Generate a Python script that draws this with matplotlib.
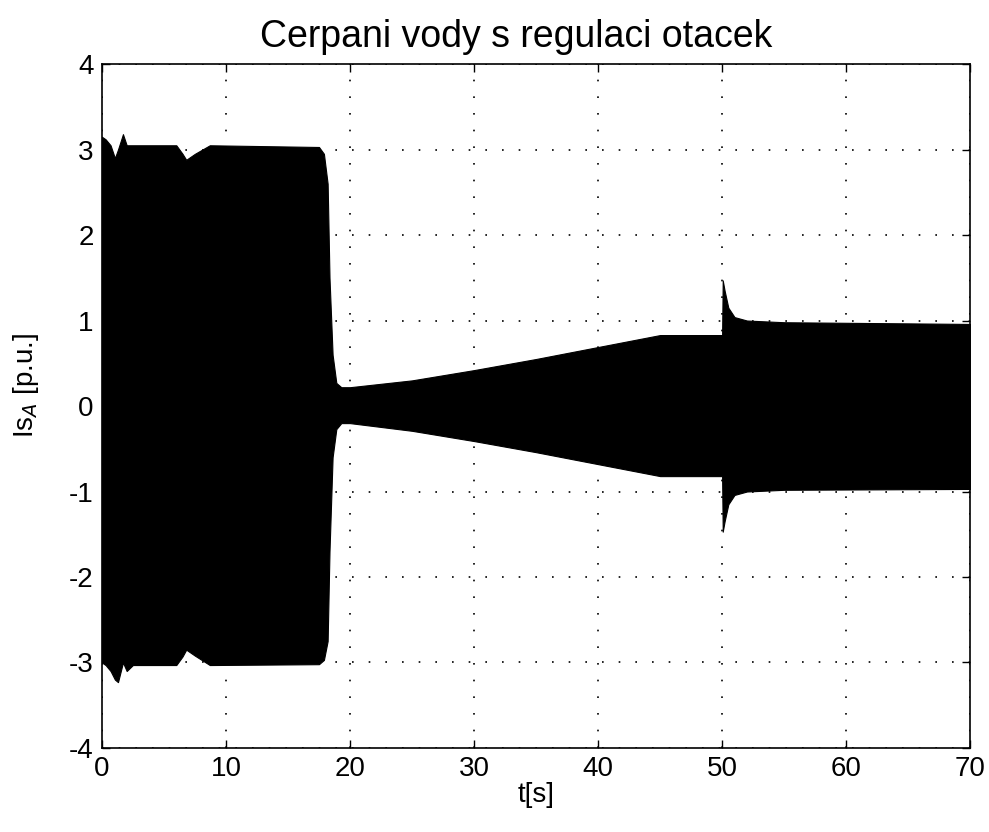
import matplotlib
matplotlib.use('Agg')
from matplotlib import pyplot as plt

plt.rcParams['font.family'] = ['Liberation Sans', 'DejaVu Sans']
plt.rcParams['axes.unicode_minus'] = False

# envelope of the stator current Is_A (upper / lower peaks)
t_env = [0.0, 0.3, 0.7, 1.05, 1.3, 1.7, 2.0, 2.5, 6.0, 6.5, 6.8, 7.5, 8.7,
         17.5, 17.9, 18.2, 18.35, 18.6, 18.9, 19.3, 20.0, 25.0, 30.0, 35.0,
         40.0, 45.0, 50.0, 50.05, 50.2, 50.5, 51.0, 52.0, 55.0, 70.0]
upper = [3.15, 3.12, 3.05, 2.9, 3.0, 3.18, 3.05, 3.05, 3.05, 2.95, 2.88, 2.95, 3.05,
         3.03, 2.95, 2.6, 1.5, 0.6, 0.27, 0.22, 0.22, 0.3, 0.42, 0.55,
         0.69, 0.83, 0.83, 1.47, 1.35, 1.15, 1.04, 1.0, 0.98, 0.96]
lower = [-3.0, -3.03, -3.1, -3.2, -3.23, -3.0, -3.1, -3.03, -3.03, -2.93, -2.85, -2.92, -3.03,
         -3.02, -2.97, -2.75, -1.7, -0.6, -0.27, -0.2, -0.2, -0.29, -0.41, -0.54,
         -0.68, -0.82, -0.82, -1.47, -1.35, -1.15, -1.04, -1.0, -0.98, -0.97]

xticks = [0, 10, 20, 30, 40, 50, 60, 70]
yticks = [-4, -3, -2, -1, 0, 1, 2, 3, 4]

fig = plt.figure(figsize=(9.89, 8.32), dpi=100)
ax = fig.add_axes([0.103, 0.101, 0.878, 0.822])

ax.fill_between(t_env, lower, upper, color='black', linewidth=0.8, edgecolor='black')

ax.set_xlim(0, 70)
ax.set_ylim(-4, 4)
ax.set_xticks(xticks)
ax.set_yticks(yticks)
ax.tick_params(direction='in', top=True, right=True, labelsize=20, length=6, width=1, pad=6)
ax.grid(True, color='black', linestyle=(0, (1, 9)), linewidth=1.2)
for s in ax.spines.values():
    s.set_linewidth(1.2)

ax.set_title('Cerpani vody s regulaci otacek', fontsize=27, pad=12, x=0.477)
ax.set_xlabel('t[s]', fontsize=20, labelpad=0)
ax.set_ylabel('Is$_A$ [p.u.]', fontsize=20)
ax.yaxis.set_label_coords(-0.07, 0.53)

fig.savefig('out.png', dpi=100)
